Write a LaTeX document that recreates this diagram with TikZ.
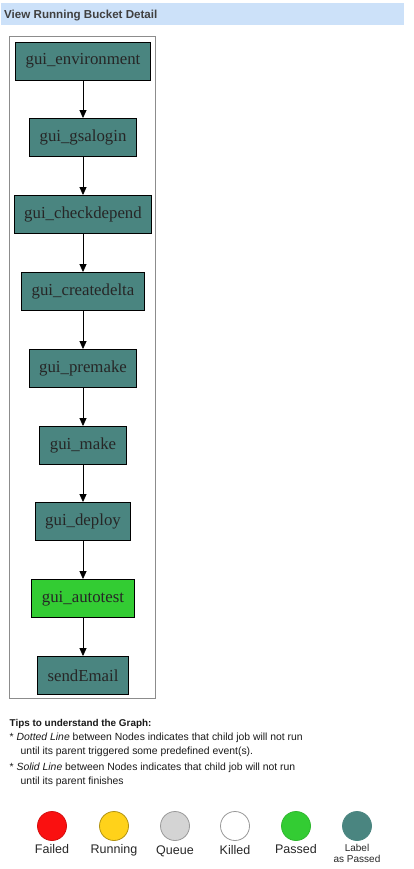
\documentclass[tikz,border=0pt]{standalone}
\usepackage{fontspec}
\setmainfont{Liberation Sans}
\newfontfamily\jobfont{Liberation Serif}
\usetikzlibrary{arrows.meta,positioning}

\definecolor{headblue}{RGB}{204,225,249}
\definecolor{jobteal}{RGB}{74,133,128}
\definecolor{jobgreen}{RGB}{51,204,51}
\definecolor{framegray}{RGB}{140,140,140}
\definecolor{failred}{RGB}{250,16,16}
\definecolor{runyellow}{RGB}{255,210,26}
\definecolor{queuegray}{RGB}{212,212,212}

\begin{document}
\begin{tikzpicture}[
    x=1pt, y=-1pt,
    jobbox/.style={rectangle, draw=black, line width=0.9pt, fill=jobteal, minimum height=38pt, inner xsep=10pt, inner ysep=0pt, text=black!85, font=\jobfont\fontsize{16.8}{18}\selectfont},
    jobarrow/.style={-{Triangle[length=8pt,width=7pt]}, line width=0.8pt},
    legdot/.style={circle, minimum size=29pt, inner sep=0pt, line width=0.8pt},
    legtext/.style={font=\fontsize{12.5}{14}\selectfont, text=black!85},
    tiptext/.style={anchor=base west, inner sep=0pt, font=\fontsize{10.4}{12}\selectfont, text=black!90},
]
\useasboundingbox (0,0) rectangle (413,869);

% header bar
\fill[headblue] (1,3) rectangle (404,25);
\node[anchor=base west, inner sep=0pt, font=\bfseries\fontsize{11.6}{13}\selectfont, text=black!75] (title) at (4,18.7) {View Running Bucket Detail};

% graph frame
\draw[framegray, line width=0.9pt] (9,36) rectangle (155,698);

% jobs
\node[jobbox] (env)    at (83,61)    {gui\_environment};
\node[jobbox] (login)  at (83,137.5) {gui\_gsalogin};
\node[jobbox] (depend) at (83,214.5) {gui\_checkdepend};
\node[jobbox] (delta)  at (83,291.5) {gui\_createdelta};
\node[jobbox] (premk)  at (83,368.5) {gui\_premake};
\node[jobbox] (make)   at (83,445.5) {gui\_make};
\node[jobbox] (deploy) at (83,521.5) {gui\_deploy};
\node[jobbox, fill=jobgreen] (atest) at (83,598.5) {gui\_autotest};
\node[jobbox] (email)  at (83,675.5) {sendEmail};

\draw[jobarrow] (env) -- (login);
\draw[jobarrow] (login) -- (depend);
\draw[jobarrow] (depend) -- (delta);
\draw[jobarrow] (delta) -- (premk);
\draw[jobarrow] (premk) -- (make);
\draw[jobarrow] (make) -- (deploy);
\draw[jobarrow] (deploy) -- (atest);
\draw[jobarrow] (atest) -- (email);

% tips
\node[tiptext, font=\bfseries\fontsize{9.9}{11}\selectfont] (tiphead) at (9.5,726) {Tips to understand the Graph:};
\node[tiptext] (tip1a) at (9.5,740.5) {* \textit{Dotted Line} between Nodes indicates that child job will not run};
\node[tiptext] (tip1b) at (20.5,754.5) {until its parent triggered some predefined event(s).};
\node[tiptext] (tip2a) at (9.5,770) {* \textit{Solid Line} between Nodes indicates that child job will not run};
\node[tiptext] (tip2b) at (20.5,784.5) {until its parent finishes};

% legend
\node[legdot, fill=failred, draw=failred!85!black] (failed) at (52,826) {};
\node[legdot, fill=runyellow, draw=runyellow!70!black] (running) at (114,826) {};
\node[legdot, fill=queuegray, draw=black!40] (queue) at (175,826) {};
\node[legdot, fill=white, draw=black!40] (killed) at (235,826) {};
\node[legdot, fill=jobgreen, draw=jobgreen!90!black] (passed) at (296,826) {};
\node[legdot, fill=jobteal, draw=jobteal] (labelled) at (357,826) {};

\node[legtext, anchor=base] (failedtxt) at (52,853) {Failed};
\node[legtext, anchor=base] (runningtxt) at (114,853) {Running};
\node[legtext, anchor=base] (queuetxt) at (175,854) {Queue};
\node[legtext, anchor=base] (killedtxt) at (235,854) {Killed};
\node[legtext, anchor=base] (passedtxt) at (296,853) {Passed};
\node[legtext, anchor=base, align=center, font=\fontsize{10}{11.5}\selectfont] (labelledtxt) at (357,862.5) {Label\\as Passed};
\end{tikzpicture}
\end{document}
